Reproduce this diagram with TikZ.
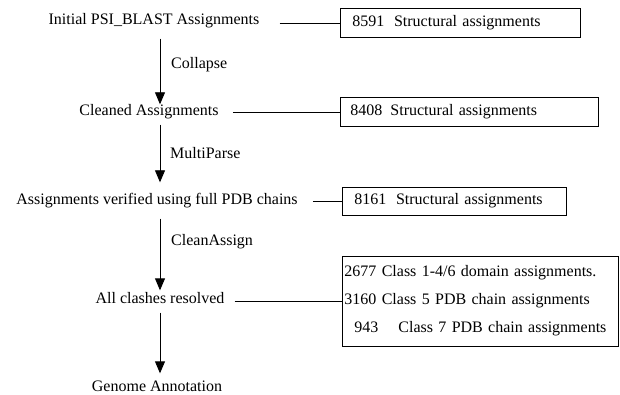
\documentclass[tikz,border=0pt]{standalone}
\usepackage{fontspec}
\setmainfont{Liberation Serif}
\usetikzlibrary{arrows.meta}
\begin{document}
\begin{tikzpicture}[x=1pt,y=-1pt,
  every node/.style={font=\fontsize{16}{19}\selectfont},
  lbl/.style={inner sep=0pt, text height=11pt, text depth=4pt},
  steplbl/.style={inner sep=0pt, anchor=west},
  boxnode/.style={draw, line width=0.9pt, anchor=west, align=left, inner ysep=0pt},
  arr/.style={line width=0.9pt, -{Triangle[width=10pt,length=12pt]}},
  conn/.style={line width=0.9pt}]
\useasboundingbox (0,0) rectangle (620,395);
\coordinate (col) at (160,0);
% main column
\node[lbl] (n1) at (154,21) {Initial PSI\_BLAST Assignments};
\node[lbl] (n2) at (149,112) {Cleaned Assignments};
\node[lbl] (n3) at (157,201) {Assignments verified using full PDB chains};
\node[lbl] (n4) at (160,300) {All clashes resolved};
\node[lbl] (n5) at (157,388) {Genome Annotation};
% step labels
\node[steplbl] (s1) at (171,65) {Collapse};
\node[steplbl] (s2) at (170,153) {MultiParse};
\node[steplbl] (s3) at (171,242) {CleanAssign};
% boxes
\node[boxnode, minimum height=29pt, text width=216pt, inner xsep=12pt] (b1) at (340,23)
  {8591\hspace{0.6em}Structural assignments};
\node[boxnode, minimum height=29pt, text width=238pt, inner xsep=10pt] (b2) at (340,112)
  {8408\hspace{0.5em}Structural assignments};
\node[boxnode, minimum height=28pt, text width=200pt, inner xsep=12pt] (b3) at (342,201)
  {8161\hspace{0.6em}Structural assignments};
\node[boxnode, minimum height=90pt, text width=272pt, inner xsep=2pt,
      font=\fontsize{16}{28}\selectfont] (b4) at (342,301)
  {2677 Class 1-4/6 domain assignments.\\
   3160 Class 5 PDB chain assignments\\
   \hspace{10pt}943\hspace{20pt}Class 7 PDB chain assignments};
% arrows
\draw[arr, shorten <=10pt] (n1.south -| col) -- (n2.north -| col);
\draw[arr, shorten <=5pt, shorten >=11pt] (n2.south -| col) -- (n3.north -| col);
\draw[arr, shorten <=10pt, shorten >=2pt] (n3.south -| col) -- (n4.north -| col);
\draw[arr, shorten <=5pt, shorten >=7pt] (n4.south -| col) -- (n5.north -| col);
% connectors
\draw[conn, shorten <=20pt] (n1.east |- b1.west) -- (b1.west);
\draw[conn, shorten <=14pt] (n2.east |- b2.west) -- (b2.west);
\draw[conn, shorten <=15pt] (n3.east |- b3.west) -- (b3.west);
\draw[conn, shorten <=10pt] (n4.east |- b4.west) -- (b4.west);
\end{tikzpicture}
\end{document}
